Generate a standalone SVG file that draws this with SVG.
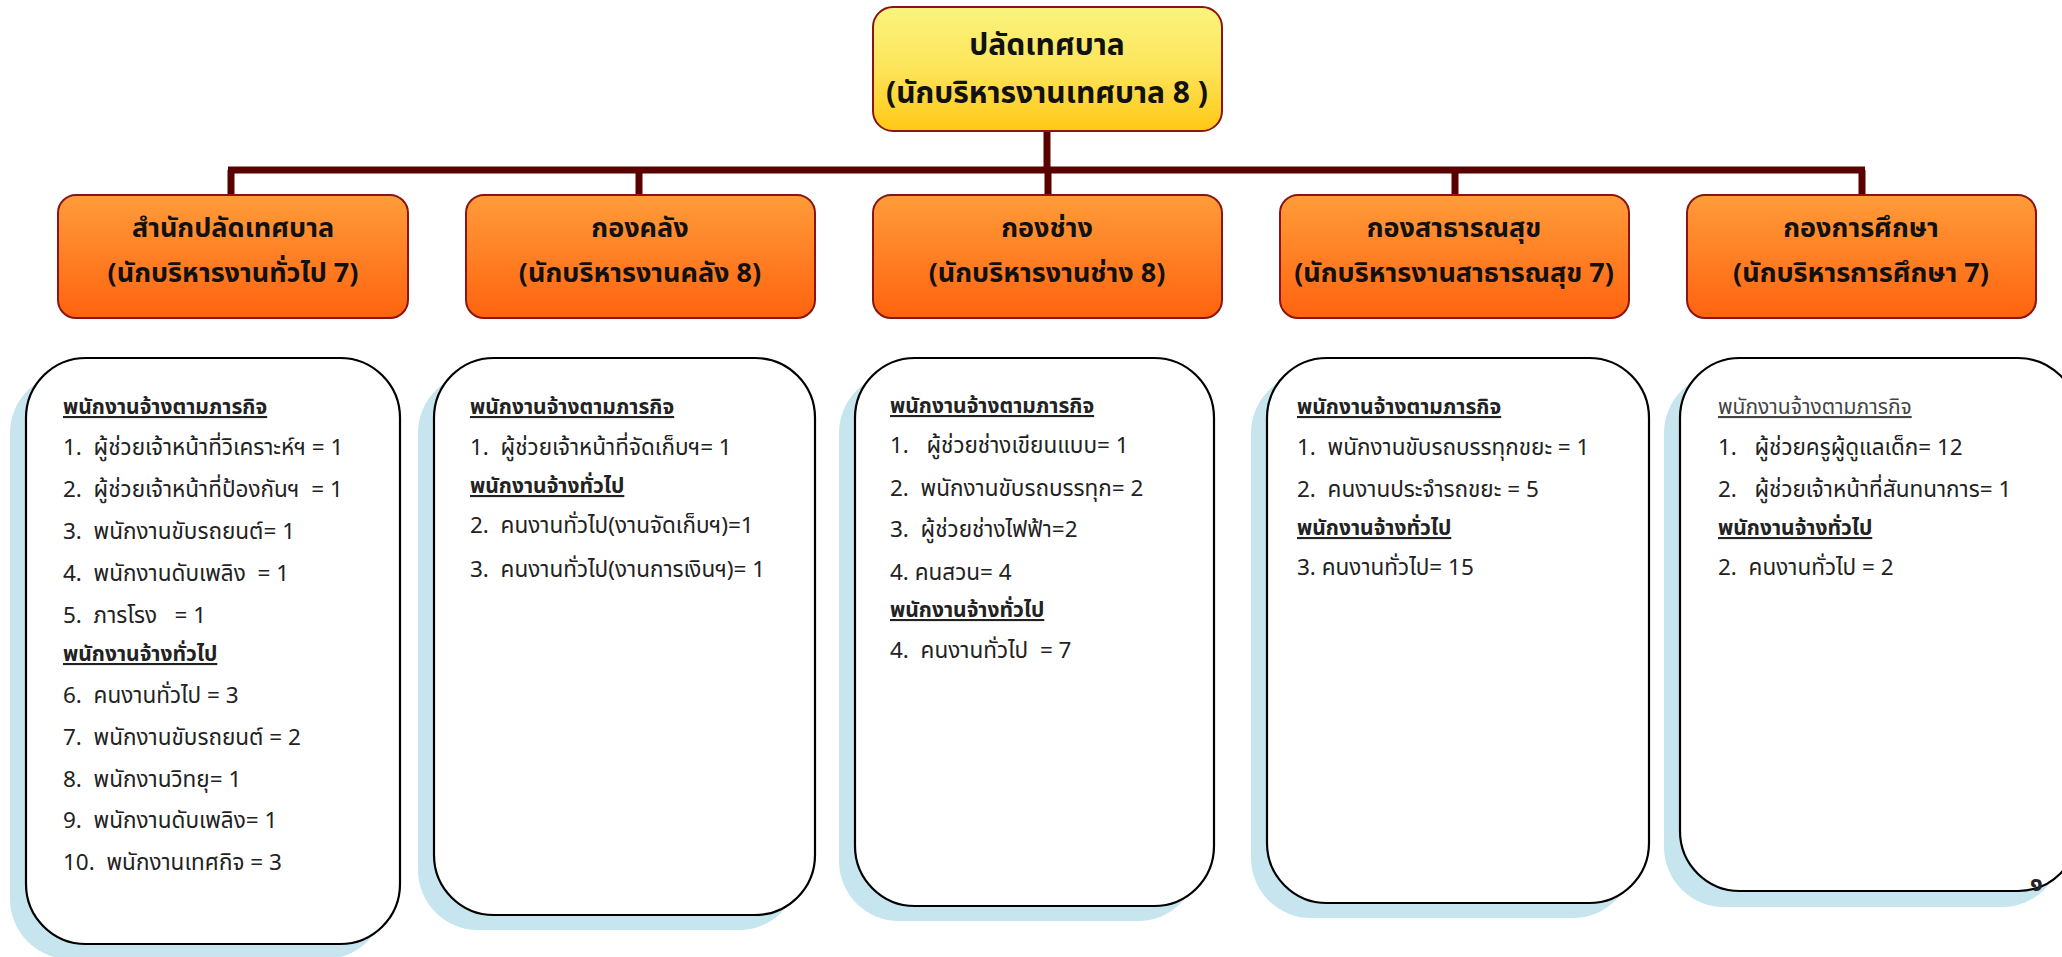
<svg xmlns="http://www.w3.org/2000/svg" width="2062" height="957" viewBox="0 0 2062 957">
<defs>
<linearGradient id="gTop" x1="0" y1="0" x2="0" y2="1">
<stop offset="0" stop-color="#FAF47E"/>
<stop offset="0.5" stop-color="#FDE45A"/>
<stop offset="1" stop-color="#FFC814"/>
</linearGradient>
<linearGradient id="gDept" x1="0" y1="0" x2="0" y2="1">
<stop offset="0" stop-color="#FF9C3A"/>
<stop offset="1" stop-color="#FF630E"/>
</linearGradient>
<style>
.top{fill:url(#gTop);stroke:#8B1414;stroke-width:2}
.dept{fill:url(#gDept);stroke:#8B1414;stroke-width:2}
.card{fill:#fff;stroke:#000;stroke-width:2.2}
.shadow{fill:#C6E5EE}
.t1{font-family:"Noto Sans Thai","Tahoma","Noto Sans","DejaVu Sans",sans-serif;font-weight:bold;font-size:30px;fill:#111;text-anchor:middle}
.t2{font-family:"Noto Sans Thai","Tahoma","Noto Sans","DejaVu Sans",sans-serif;font-weight:bold;font-size:27px;fill:#111;text-anchor:middle}
.tx{font-family:"Noto Sans Thai","Tahoma","Noto Sans","DejaVu Sans",sans-serif;font-size:22.5px;fill:#222;white-space:pre}
.hd{font-family:"Noto Sans Thai","Tahoma","Noto Sans","DejaVu Sans",sans-serif;font-size:21px;font-weight:bold;fill:#222;text-decoration:underline;white-space:pre}
.hl{font-family:"Noto Sans Thai","Tahoma","Noto Sans","DejaVu Sans",sans-serif;font-size:21px;fill:#444;text-decoration:underline;white-space:pre}
.ln{stroke:#5A0000;stroke-width:7;fill:none}
</style>
</defs>
<rect width="2062" height="957" fill="#fff"/>

<g id="connectors">
<line class="ln" x1="1047" y1="131" x2="1047" y2="170"/>
<line class="ln" x1="228" y1="170" x2="1865" y2="170"/>
<line class="ln" x1="231" y1="170" x2="231" y2="195"/>
<line class="ln" x1="639" y1="170" x2="639" y2="195"/>
<line class="ln" x1="1048" y1="170" x2="1048" y2="195"/>
<line class="ln" x1="1455" y1="170" x2="1455" y2="195"/>
<line class="ln" x1="1862" y1="170" x2="1862" y2="195"/>
</g>

<g id="top">
<rect class="top" x="873" y="7" width="349" height="124" rx="20"/>
<text class="t1" x="1047" y="55">ปลัดเทศบาล</text>
<text class="t1" x="1047" y="103">(นักบริหารงานเทศบาล 8 )</text>
</g>

<g id="dept1">
<rect class="dept" x="58" y="195" width="350" height="123" rx="18"/>
<text class="t2" x="233" y="237">สำนักปลัดเทศบาล</text>
<text class="t2" x="233" y="282">(นักบริหารงานทั่วไป 7)</text>
</g>
<g id="dept2">
<rect class="dept" x="466" y="195" width="349" height="123" rx="18"/>
<text class="t2" x="640" y="237">กองคลัง</text>
<text class="t2" x="640" y="282">(นักบริหารงานคลัง 8)</text>
</g>
<g id="dept3">
<rect class="dept" x="873" y="195" width="349" height="123" rx="18"/>
<text class="t2" x="1047" y="237">กองช่าง</text>
<text class="t2" x="1047" y="282">(นักบริหารงานช่าง 8)</text>
</g>
<g id="dept4">
<rect class="dept" x="1280" y="195" width="349" height="123" rx="18"/>
<text class="t2" x="1454" y="237">กองสาธารณสุข</text>
<text class="t2" x="1454" y="282">(นักบริหารงานสาธารณสุข 7)</text>
</g>
<g id="dept5">
<rect class="dept" x="1687" y="195" width="349" height="123" rx="18"/>
<text class="t2" x="1861" y="237">กองการศึกษา</text>
<text class="t2" x="1861" y="282">(นักบริหารการศึกษา 7)</text>
</g>

<g id="staff1">
<rect class="shadow" x="10" y="373" width="375" height="586" rx="60"/>
<rect class="card" x="26" y="358" width="374" height="586" rx="60"/>
<text class="hd" x="63" y="414">พนักงานจ้างตามภารกิจ</text>
<text class="tx" x="63" y="455">1.  ผู้ช่วยเจ้าหน้าที่วิเคราะห์ฯ = 1</text>
<text class="tx" x="63" y="497">2.  ผู้ช่วยเจ้าหน้าที่ป้องกันฯ  = 1</text>
<text class="tx" x="63" y="539">3.  พนักงานขับรถยนต์= 1</text>
<text class="tx" x="63" y="581">4.  พนักงานดับเพลิง  = 1</text>
<text class="tx" x="63" y="623">5.  ภารโรง   = 1</text>
<text class="hd" x="63" y="661">พนักงานจ้างทั่วไป</text>
<text class="tx" x="63" y="703">6.  คนงานทั่วไป = 3</text>
<text class="tx" x="63" y="745">7.  พนักงานขับรถยนต์ = 2</text>
<text class="tx" x="63" y="787">8.  พนักงานวิทยุ= 1</text>
<text class="tx" x="63" y="828">9.  พนักงานดับเพลิง= 1</text>
<text class="tx" x="63" y="870">10.  พนักงานเทศกิจ = 3</text>
</g>

<g id="staff2">
<rect class="shadow" x="418" y="373" width="381" height="557" rx="60"/>
<rect class="card" x="434" y="358" width="381" height="557" rx="60"/>
<text class="hd" x="470" y="414">พนักงานจ้างตามภารกิจ</text>
<text class="tx" x="470" y="455">1.  ผู้ช่วยเจ้าหน้าที่จัดเก็บฯ= 1</text>
<text class="hd" x="470" y="493">พนักงานจ้างทั่วไป</text>
<text class="tx" x="470" y="533">2.  คนงานทั่วไป(งานจัดเก็บฯ)=1</text>
<text class="tx" x="470" y="577">3.  คนงานทั่วไป(งานการเงินฯ)= 1</text>
</g>

<g id="staff3">
<rect class="shadow" x="839" y="373" width="359" height="548" rx="60"/>
<rect class="card" x="855" y="358" width="359" height="548" rx="60"/>
<text class="hd" x="890" y="413">พนักงานจ้างตามภารกิจ</text>
<text class="tx" x="890" y="453">1.   ผู้ช่วยช่างเขียนแบบ= 1</text>
<text class="tx" x="890" y="496">2.  พนักงานขับรถบรรทุก= 2</text>
<text class="tx" x="890" y="537">3.  ผู้ช่วยช่างไฟฟ้า=2</text>
<text class="tx" x="890" y="580">4. คนสวน= 4</text>
<text class="hd" x="890" y="617">พนักงานจ้างทั่วไป</text>
<text class="tx" x="890" y="658">4.  คนงานทั่วไป  = 7</text>
</g>

<g id="staff4">
<rect class="shadow" x="1251" y="373" width="382" height="545" rx="60"/>
<rect class="card" x="1267" y="358" width="382" height="545" rx="60"/>
<text class="hd" x="1297" y="414">พนักงานจ้างตามภารกิจ</text>
<text class="tx" x="1297" y="455">1.  พนักงานขับรถบรรทุกขยะ = 1</text>
<text class="tx" x="1297" y="497">2.  คนงานประจำรถขยะ = 5</text>
<text class="hd" x="1297" y="535">พนักงานจ้างทั่วไป</text>
<text class="tx" x="1297" y="575">3. คนงานทั่วไป= 15</text>
</g>

<g id="staff5">
<rect class="shadow" x="1664" y="373" width="398" height="534" rx="60"/>
<rect class="card" x="1680" y="358" width="398" height="533" rx="60"/>
<text class="hl" x="1718" y="414">พนักงานจ้างตามภารกิจ</text>
<text class="tx" x="1718" y="455">1.   ผู้ช่วยครูผู้ดูแลเด็ก= 12</text>
<text class="tx" x="1718" y="497">2.   ผู้ช่วยเจ้าหน้าที่สันทนาการ= 1</text>
<text class="hd" x="1718" y="535">พนักงานจ้างทั่วไป</text>
<text class="tx" x="1718" y="575">2.  คนงานทั่วไป = 2</text>
</g>

<text class="tx" x="2030" y="891" style="font-size:24px;font-weight:bold">๑</text>
</svg>
